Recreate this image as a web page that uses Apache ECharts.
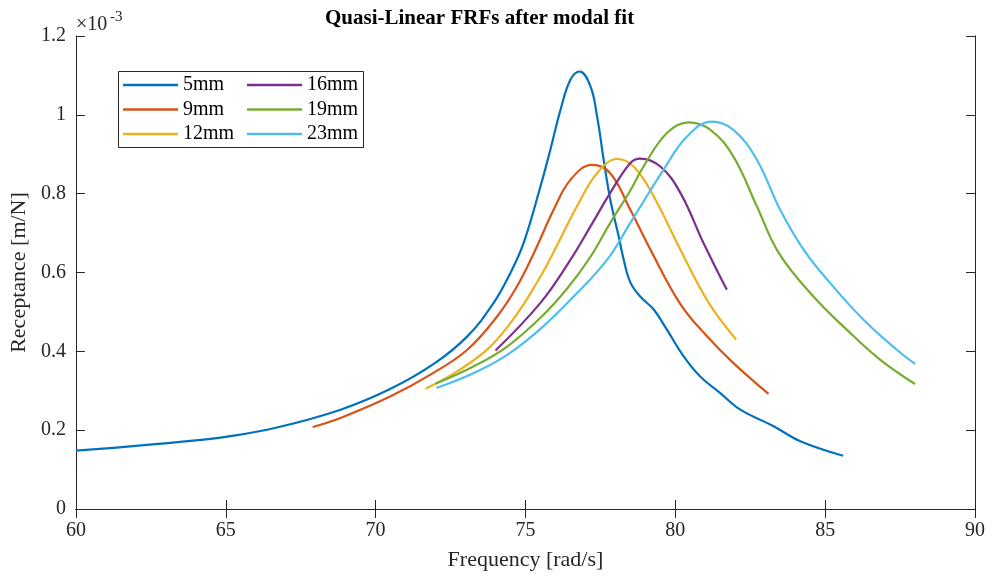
<!DOCTYPE html>
<html>
<head>
<meta charset="utf-8">
<script src="https://cdn.jsdelivr.net/npm/echarts@6/dist/echarts.min.js"></script>
<style>
  html, body { margin: 0; padding: 0; background: #fff; }
  #chart { width: 993px; height: 578px; }
</style>
</head>
<body>
<div id="chart"></div>
<script>
// Receptance values in units of 1e-3 m/N, frequency in rad/s
const mm5 = [[60, 0.148], [62, 0.160], [64, 0.174], [65, 0.183], [66.67, 0.206], [68.83, 0.252],
  [70.5, 0.305], [71.94, 0.368], [73.06, 0.438], [73.94, 0.523], [74.5, 0.599], [74.94, 0.675],
  [75.5, 0.818], [75.83, 0.911], [76.17, 1.013], [76.5, 1.089], [76.81, 1.110], [77.17, 1.072],
  [77.39, 0.996], [77.61, 0.886], [77.83, 0.785], [78.11, 0.692], [78.28, 0.632], [78.5, 0.575],
  [78.83, 0.539], [79.28, 0.506], [79.72, 0.455], [80.28, 0.387], [80.83, 0.336], [81.5, 0.294],
  [82.17, 0.252], [83.28, 0.210], [84.17, 0.172], [85.6, 0.135]];
const mm9 = [[67.9, 0.208], [68.83, 0.231], [70.5, 0.286], [71.83, 0.341], [73.06, 0.404],
  [74.06, 0.489], [74.72, 0.565], [75.28, 0.649], [75.94, 0.759], [76.5, 0.835], [77.22, 0.873],
  [77.83, 0.852], [78.5, 0.759], [79.17, 0.658], [80.17, 0.52], [81.06, 0.438], [81.94, 0.370],
  [83.11, 0.292]];
const mm12 = [[71.67, 0.305], [72.72, 0.349], [73.83, 0.412], [74.72, 0.495], [75.5, 0.59],
  [75.94, 0.652], [76.72, 0.768], [77.39, 0.852], [78.06, 0.888], [78.61, 0.869], [79.28, 0.793],
  [80.17, 0.658], [81.1, 0.525], [82.03, 0.430]];
const mm16 = [[74.0, 0.402], [75.5, 0.523], [76.5, 0.632], [77.17, 0.717], [77.83, 0.802],
  [78.5, 0.878], [78.83, 0.889], [79.5, 0.869], [80.17, 0.802], [80.94, 0.675], [81.72, 0.556]];
const mm19 = [[72.0, 0.318], [73.28, 0.362], [74.39, 0.412], [75.5, 0.485], [76.4, 0.56],
  [77.17, 0.64], [77.83, 0.726], [78.5, 0.808], [78.94, 0.869], [79.72, 0.954], [80.44, 0.981],
  [81.17, 0.962], [81.94, 0.894], [82.72, 0.768], [83.45, 0.65], [84.61, 0.539], [85.72, 0.455],
  [86.83, 0.379], [88.0, 0.317]];
const mm23 = [[72.03, 0.307], [73.28, 0.345], [74.39, 0.391], [75.5, 0.457], [76.61, 0.539],
  [77.72, 0.632], [78.5, 0.726], [79.61, 0.861], [80.39, 0.945], [81.22, 0.983], [81.94, 0.962],
  [82.72, 0.886], [83.5, 0.759], [84.28, 0.658], [85.17, 0.573], [86.28, 0.480], [87.39, 0.404],
  [88.0, 0.368]];

const seriesNames = ['5mm', '9mm', '12mm', '16mm', '19mm', '23mm'];
const seriesData = [mm5, mm9, mm12, mm16, mm19, mm23];
const colors = ['#0072BD', '#D95319', '#EDB120', '#7E2F8E', '#77AC30', '#4DBEEE'];

const font = "'Liberation Serif', 'Times New Roman', serif";
const axisColor = '#262626';

const chart = echarts.init(document.getElementById('chart'));

const legendBase = {
  orient: 'vertical',
  icon: 'rect',
  itemWidth: 55,
  itemHeight: 2.5,
  itemGap: 4.5,
  padding: 0,
  textStyle: { fontFamily: font, fontSize: 20, color: '#000', lineHeight: 20 }
};

const boxAxis = {
  axisLine: { show: true, lineStyle: { color: axisColor, width: 1 } },
  axisTick: { show: true, inside: true, length: 9, lineStyle: { color: axisColor } },
  axisLabel: { show: false },
  splitLine: { show: false }
};

const option = {
  animation: false,
  color: colors,
  grid: { left: 75, right: 18, top: 36, bottom: 69 },
  xAxis: [
    {
      type: 'value', min: 60, max: 90, interval: 5,
      name: 'Frequency [rad/s]', nameLocation: 'middle', nameGap: 40,
      nameTextStyle: { fontFamily: font, fontSize: 22, color: '#262626' },
      axisLine: { show: true, onZero: false, lineStyle: { color: axisColor, width: 1 } },
      axisTick: { show: true, inside: true, length: 9, lineStyle: { color: axisColor } },
      axisLabel: { fontFamily: font, fontSize: 20, color: '#262626', margin: 12 },
      splitLine: { show: false }
    },
    Object.assign({ type: 'value', min: 60, max: 90, interval: 5, position: 'top' }, boxAxis)
  ],
  yAxis: [
    {
      type: 'value', min: 0, max: 1.2, interval: 0.2,
      name: 'Receptance [m/N]', nameLocation: 'middle', nameGap: 42,
      nameTextStyle: { fontFamily: font, fontSize: 22, color: '#262626' },
      axisLine: { show: true, onZero: false, lineStyle: { color: axisColor, width: 1 } },
      axisTick: { show: true, inside: true, length: 9, lineStyle: { color: axisColor } },
      axisLabel: { fontFamily: font, fontSize: 20, color: '#262626', margin: 10 },
      splitLine: { show: false }
    },
    Object.assign({ type: 'value', min: 0, max: 1.2, interval: 0.2, position: 'right' }, boxAxis)
  ],
  legend: [
    Object.assign({ left: 123, top: 75, data: seriesNames.slice(0, 3) }, legendBase),
    Object.assign({ left: 247, top: 75, data: seriesNames.slice(3) }, legendBase)
  ],
  graphic: [
    {
      type: 'rect', z: 3,
      shape: { x: 118.5, y: 71.5, width: 245, height: 76 },
      style: { fill: '#fff', stroke: axisColor, lineWidth: 1 }
    },
    {
      type: 'text', left: 525 - 200, top: 8,
      style: {
        text: 'Quasi-Linear FRFs after modal fit', width: 400, align: 'center',
        font: 'bold 21px ' + font, fill: '#000'
      }
    },
    {
      type: 'text', left: 76, top: 15,
      style: { text: '×10', font: '20px ' + font, fill: '#262626' }
    },
    {
      type: 'text', left: 110, top: 10,
      style: { text: '-3', font: '15px ' + font, fill: '#262626' }
    }
  ],
  series: seriesData.map((d, i) => ({
    name: seriesNames[i],
    type: 'line',
    data: d,
    smooth: 0.4,
    symbol: 'none',
    lineStyle: { width: 2.2, color: colors[i] },
    itemStyle: { color: colors[i] }
  }))
};

chart.setOption(option);
</script>
</body>
</html>
